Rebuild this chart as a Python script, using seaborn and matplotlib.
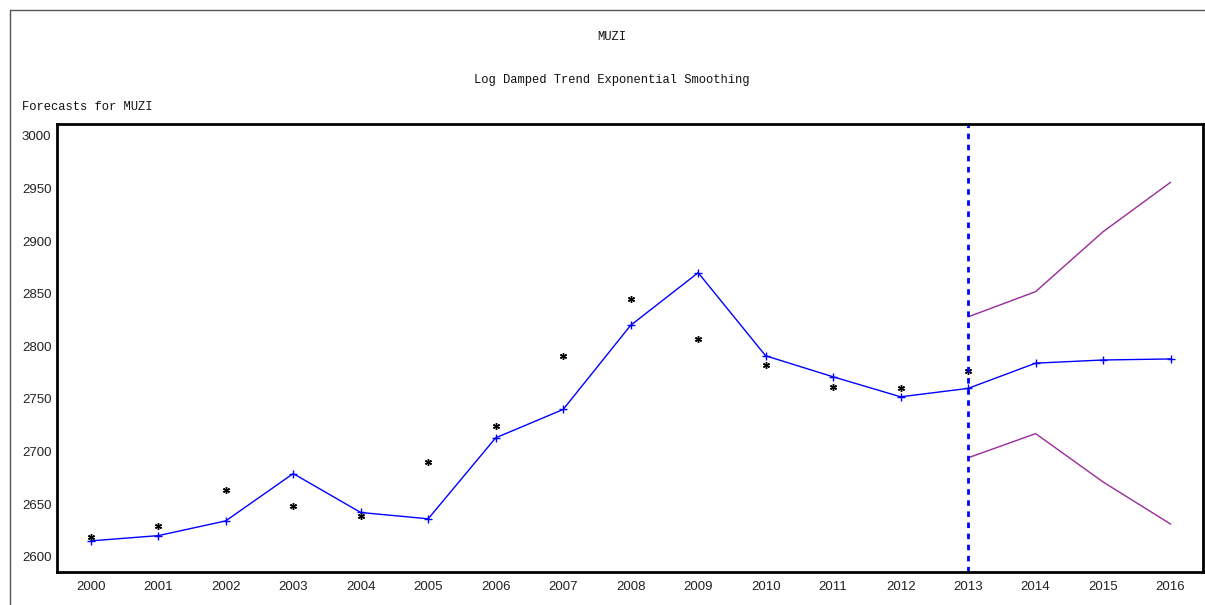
import numpy as np
import pandas as pd
import seaborn as sns
import matplotlib.pyplot as plt
from matplotlib.lines import Line2D

# actual values (stars) and one-step / forecast values (blue line)
years = [2000, 2001, 2002, 2003, 2004, 2005, 2006, 2007, 2008, 2009, 2010, 2011, 2012, 2013]
actual = [2619, 2629, 2663, 2648, 2639, 2690, 2724, 2791, 2845, 2807, 2782, 2761, 2760, 2777]

fit_years = [2000, 2001, 2002, 2003, 2004, 2005, 2006, 2007, 2008, 2009, 2010, 2011, 2012, 2013, 2014, 2015, 2016]
fitted = [2615, 2620, 2634, 2679, 2642, 2636, 2713, 2740, 2820, 2870, 2791, 2771, 2752, 2760, 2784, 2787, 2788]

band_years = [2013, 2014, 2015, 2016]
upper = [2828, 2852, 2909, 2956]
lower = [2694, 2717, 2671, 2631]

split_year = 2013
yticks = [2600, 2650, 2700, 2750, 2800, 2850, 2900, 2950, 3000]

sns.set_style("white")
plt.rcParams['font.family'] = ['Liberation Sans', 'DejaVu Sans']

fig = plt.figure(figsize=(12.05, 6.05), dpi=100)
ax = fig.add_axes([57 / 1205, 1 - 571.7 / 605, (1203 - 57) / 1205, (571.7 - 124) / 605])

dfFit = pd.DataFrame({'year': fit_years, 'value': fitted})
dfAct = pd.DataFrame({'year': years, 'value': actual})
dfBand = pd.DataFrame({'year': band_years, 'upper': upper, 'lower': lower})

sns.lineplot(data=dfBand, x='year', y='upper', ax=ax, color='#9a2a9a', linewidth=1)
sns.lineplot(data=dfBand, x='year', y='lower', ax=ax, color='#9a2a9a', linewidth=1)
sns.lineplot(data=dfFit, x='year', y='value', ax=ax, color='#0000ff', linewidth=1,
             marker='+', markersize=6, markeredgewidth=1, markeredgecolor='#0000ff')
ax.plot(dfAct['year'], dfAct['value'], linestyle='none', marker=(6, 2, 0),
        markersize=5, markeredgewidth=1, color='black')
ax.axvline(split_year, color='#0000ff', linewidth=2, linestyle=(0, (2, 2)))

ax.set_xlim(1999.5, 2016.48)
ax.set_ylim(2585.7, 3011.4)
ax.set_xticks(fit_years)
ax.set_yticks(yticks)
ax.set_xlabel('')
ax.set_ylabel('')
for s in ax.spines.values():
    s.set_color('black')
    s.set_linewidth(2)
ax.tick_params(axis='x', direction='out', length=4, width=1.5, colors='black', labelsize=9.5, pad=3)
ax.tick_params(axis='y', direction='out', length=3, width=1.5, colors='black', labelsize=9.5, pad=1)
for lbl in ax.get_xticklabels() + ax.get_yticklabels():
    lbl.set_color('#222222')
ax.grid(False)

mono = ['Liberation Mono', 'DejaVu Sans Mono']
fig.text(612 / 1205, 1 - 37 / 605, 'MUZI', ha='center', va='center', family=mono, fontsize=8.7, color='#111111')
fig.text(612 / 1205, 1 - 80 / 605, 'Log Damped Trend Exponential Smoothing', ha='center', va='center',
         family=mono, fontsize=8.7, color='#111111')
fig.text(22 / 1205, 1 - 107 / 605, 'Forecasts for MUZI', ha='left', va='center', family=mono,
         fontsize=8.7, color='#111111')

# outer frame
fig.add_artist(Line2D([10 / 1205, 10 / 1205], [0, 1 - 10 / 605], color='#555555', linewidth=1))
fig.add_artist(Line2D([10 / 1205, 1], [1 - 10 / 605, 1 - 10 / 605], color='#555555', linewidth=1))

fig.savefig('out.png', dpi=100)
